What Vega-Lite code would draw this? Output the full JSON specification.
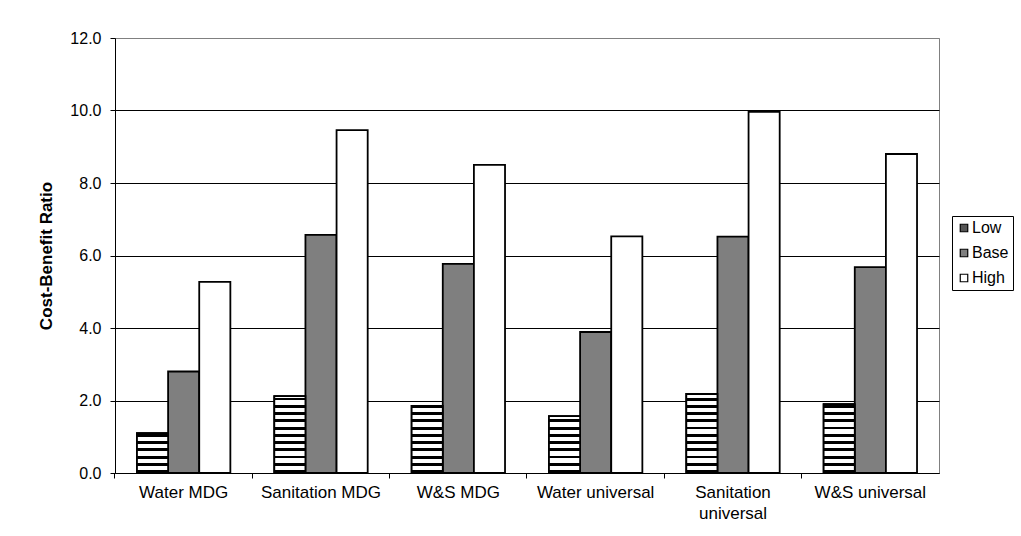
{
  "$schema": "https://vega.github.io/schema/vega-lite/v6.json",
  "width": 824,
  "height": 435,
  "autosize": {"type": "none"},
  "padding": {"left": 115, "top": 38, "right": 82, "bottom": 63},
  "background": "white",
  "config": {
    "font": "Liberation Sans",
    "view": {"stroke": "#808080", "strokeWidth": 1}
  },
  "data": {
    "values": [
      {"cat": "Water MDG", "series": "Low", "value": 1.1},
      {"cat": "Water MDG", "series": "Base", "value": 2.8},
      {"cat": "Water MDG", "series": "High", "value": 5.27},
      {"cat": "Sanitation MDG", "series": "Low", "value": 2.12},
      {"cat": "Sanitation MDG", "series": "Base", "value": 6.57},
      {"cat": "Sanitation MDG", "series": "High", "value": 9.46},
      {"cat": "W&S MDG", "series": "Low", "value": 1.85},
      {"cat": "W&S MDG", "series": "Base", "value": 5.77},
      {"cat": "W&S MDG", "series": "High", "value": 8.5},
      {"cat": "Water universal", "series": "Low", "value": 1.57},
      {"cat": "Water universal", "series": "Base", "value": 3.89},
      {"cat": "Water universal", "series": "High", "value": 6.53},
      {"cat": "Sanitation universal", "series": "Low", "value": 2.18},
      {"cat": "Sanitation universal", "series": "Base", "value": 6.52},
      {"cat": "Sanitation universal", "series": "High", "value": 9.96},
      {"cat": "W&S universal", "series": "Low", "value": 1.9},
      {"cat": "W&S universal", "series": "Base", "value": 5.68},
      {"cat": "W&S universal", "series": "High", "value": 8.8}
    ]
  },
  "encoding": {
    "x": {
      "field": "cat",
      "type": "nominal",
      "sort": ["Water MDG", "Sanitation MDG", "W&S MDG", "Water universal", "Sanitation universal", "W&S universal"],
      "scale": {"paddingInner": 0.32, "paddingOuter": 0.16},
      "axis": {
        "title": null,
        "labelAngle": 0,
        "labelFontSize": 17,
        "labelColor": "black",
        "labelPadding": 6,
        "labelLineHeight": 21,
        "labelOverlap": false,
        "labelExpr": "datum.label === 'Sanitation universal' ? ['Sanitation', 'universal'] : datum.label",
        "bandPosition": -0.2353,
        "tickSize": 5,
        "tickColor": "black",
        "domainColor": "black",
        "grid": false
      }
    },
    "xOffset": {
      "field": "series",
      "type": "nominal",
      "sort": ["Low", "Base", "High"],
      "scale": {"domain": ["Low", "Base", "High"], "paddingInner": 0, "paddingOuter": 0}
    },
    "y": {
      "field": "value",
      "type": "quantitative",
      "scale": {"domain": [0, 12], "nice": false},
      "axis": {
        "title": "Cost-Benefit Ratio",
        "titleFontSize": 17,
        "titleFontWeight": "bold",
        "titleColor": "black",
        "titlePadding": 14,
        "values": [0, 2, 4, 6, 8, 10, 12],
        "format": ".1f",
        "labelFontSize": 16,
        "labelColor": "black",
        "labelPadding": 9,
        "tickSize": 5,
        "tickColor": "black",
        "domainColor": "black",
        "grid": true,
        "gridColor": {"condition": {"test": "datum.value === 12", "value": "#808080"}, "value": "black"},
        "gridWidth": 1
      }
    },
    "y2": {"datum": 0}
  },
  "layer": [
    {
      "mark": {"type": "bar", "stroke": "black", "strokeWidth": 1.8},
      "encoding": {
        "fill": {
          "field": "series",
          "type": "nominal",
          "scale": {"domain": ["Low", "Base", "High"], "range": ["#555555", "#7f7f7f", "white"]},
          "legend": {
            "title": null,
            "orient": "none",
            "legendX": 837,
            "legendY": 178,
            "symbolType": "square",
            "symbolSize": 56,
            "symbolStrokeColor": "black",
            "symbolStrokeWidth": 1,
            "labelFontSize": 16,
            "labelColor": "black",
            "labelOffset": 0,
            "strokeColor": "black",
            "fillColor": "white",
            "padding": 4,
            "rowPadding": 9,
            "encode": {
              "symbols": {
                "update": {
                  "stroke": {"value": "black"},
                  "strokeWidth": {"value": 1.2},
                  "fill": {"signal": "datum.value === 'Low' ? {gradient: 'linear', x1: 0, y1: 0, x2: 0, y2: 1, stops: [{offset: 0, color: '#fff'}, {offset: 0.5, color: '#fff'}, {offset: 0.5, color: '#000'}, {offset: 1, color: '#000'}]} : datum.value === 'Base' ? '#7f7f7f' : '#fff'"}
                }
              }
            }
          }
        }
      }
    },
    {
      "transform": [{"filter": "datum.series === 'Low'"}],
      "mark": {"type": "bar", "stroke": "black", "strokeWidth": 1.8},
      "encoding": {
        "fill": {
          "condition": [
            {"test": "datum.cat === 'Water MDG'", "value": {"gradient": "linear", "x1": 0, "y1": 1, "x2": 0, "y2": 0, "stops": [
              {"offset": 0, "color": "#000"}, {"offset": 0.0727, "color": "#000"}, {"offset": 0.0727, "color": "#fff"}, {"offset": 0.1818, "color": "#fff"},
              {"offset": 0.1818, "color": "#000"}, {"offset": 0.2545, "color": "#000"}, {"offset": 0.2545, "color": "#fff"}, {"offset": 0.3636, "color": "#fff"},
              {"offset": 0.3636, "color": "#000"}, {"offset": 0.4364, "color": "#000"}, {"offset": 0.4364, "color": "#fff"}, {"offset": 0.5455, "color": "#fff"},
              {"offset": 0.5455, "color": "#000"}, {"offset": 0.6182, "color": "#000"}, {"offset": 0.6182, "color": "#fff"}, {"offset": 0.7273, "color": "#fff"},
              {"offset": 0.7273, "color": "#000"}, {"offset": 0.8, "color": "#000"}, {"offset": 0.8, "color": "#fff"}, {"offset": 0.9091, "color": "#fff"},
              {"offset": 0.9091, "color": "#000"}, {"offset": 0.9818, "color": "#000"}, {"offset": 0.9818, "color": "#fff"}, {"offset": 1, "color": "#fff"}
            ]}},
            {"test": "datum.cat === 'Sanitation MDG'", "value": {"gradient": "linear", "x1": 0, "y1": 1, "x2": 0, "y2": 0, "stops": [
              {"offset": 0, "color": "#000"}, {"offset": 0.0377, "color": "#000"}, {"offset": 0.0377, "color": "#fff"}, {"offset": 0.0943, "color": "#fff"},
              {"offset": 0.0943, "color": "#000"}, {"offset": 0.1321, "color": "#000"}, {"offset": 0.1321, "color": "#fff"}, {"offset": 0.1887, "color": "#fff"},
              {"offset": 0.1887, "color": "#000"}, {"offset": 0.2264, "color": "#000"}, {"offset": 0.2264, "color": "#fff"}, {"offset": 0.283, "color": "#fff"},
              {"offset": 0.283, "color": "#000"}, {"offset": 0.3208, "color": "#000"}, {"offset": 0.3208, "color": "#fff"}, {"offset": 0.3774, "color": "#fff"},
              {"offset": 0.3774, "color": "#000"}, {"offset": 0.4151, "color": "#000"}, {"offset": 0.4151, "color": "#fff"}, {"offset": 0.4717, "color": "#fff"},
              {"offset": 0.4717, "color": "#000"}, {"offset": 0.5094, "color": "#000"}, {"offset": 0.5094, "color": "#fff"}, {"offset": 0.566, "color": "#fff"},
              {"offset": 0.566, "color": "#000"}, {"offset": 0.6038, "color": "#000"}, {"offset": 0.6038, "color": "#fff"}, {"offset": 0.6604, "color": "#fff"},
              {"offset": 0.6604, "color": "#000"}, {"offset": 0.6981, "color": "#000"}, {"offset": 0.6981, "color": "#fff"}, {"offset": 0.7547, "color": "#fff"},
              {"offset": 0.7547, "color": "#000"}, {"offset": 0.7925, "color": "#000"}, {"offset": 0.7925, "color": "#fff"}, {"offset": 0.8491, "color": "#fff"},
              {"offset": 0.8491, "color": "#000"}, {"offset": 0.8868, "color": "#000"}, {"offset": 0.8868, "color": "#fff"}, {"offset": 0.9434, "color": "#fff"},
              {"offset": 0.9434, "color": "#000"}, {"offset": 0.9811, "color": "#000"}, {"offset": 0.9811, "color": "#fff"}, {"offset": 1, "color": "#fff"}
            ]}},
            {"test": "datum.cat === 'W&S MDG'", "value": {"gradient": "linear", "x1": 0, "y1": 1, "x2": 0, "y2": 0, "stops": [
              {"offset": 0, "color": "#000"}, {"offset": 0.0432, "color": "#000"}, {"offset": 0.0432, "color": "#fff"}, {"offset": 0.1081, "color": "#fff"},
              {"offset": 0.1081, "color": "#000"}, {"offset": 0.1514, "color": "#000"}, {"offset": 0.1514, "color": "#fff"}, {"offset": 0.2162, "color": "#fff"},
              {"offset": 0.2162, "color": "#000"}, {"offset": 0.2595, "color": "#000"}, {"offset": 0.2595, "color": "#fff"}, {"offset": 0.3243, "color": "#fff"},
              {"offset": 0.3243, "color": "#000"}, {"offset": 0.3676, "color": "#000"}, {"offset": 0.3676, "color": "#fff"}, {"offset": 0.4324, "color": "#fff"},
              {"offset": 0.4324, "color": "#000"}, {"offset": 0.4757, "color": "#000"}, {"offset": 0.4757, "color": "#fff"}, {"offset": 0.5405, "color": "#fff"},
              {"offset": 0.5405, "color": "#000"}, {"offset": 0.5838, "color": "#000"}, {"offset": 0.5838, "color": "#fff"}, {"offset": 0.6486, "color": "#fff"},
              {"offset": 0.6486, "color": "#000"}, {"offset": 0.6919, "color": "#000"}, {"offset": 0.6919, "color": "#fff"}, {"offset": 0.7568, "color": "#fff"},
              {"offset": 0.7568, "color": "#000"}, {"offset": 0.8, "color": "#000"}, {"offset": 0.8, "color": "#fff"}, {"offset": 0.8649, "color": "#fff"},
              {"offset": 0.8649, "color": "#000"}, {"offset": 0.9081, "color": "#000"}, {"offset": 0.9081, "color": "#fff"}, {"offset": 0.973, "color": "#fff"},
              {"offset": 0.973, "color": "#000"}, {"offset": 1, "color": "#000"}
            ]}},
            {"test": "datum.cat === 'Water universal'", "value": {"gradient": "linear", "x1": 0, "y1": 1, "x2": 0, "y2": 0, "stops": [
              {"offset": 0, "color": "#000"}, {"offset": 0.051, "color": "#000"}, {"offset": 0.051, "color": "#fff"}, {"offset": 0.1274, "color": "#fff"},
              {"offset": 0.1274, "color": "#000"}, {"offset": 0.1783, "color": "#000"}, {"offset": 0.1783, "color": "#fff"}, {"offset": 0.2548, "color": "#fff"},
              {"offset": 0.2548, "color": "#000"}, {"offset": 0.3057, "color": "#000"}, {"offset": 0.3057, "color": "#fff"}, {"offset": 0.3822, "color": "#fff"},
              {"offset": 0.3822, "color": "#000"}, {"offset": 0.4331, "color": "#000"}, {"offset": 0.4331, "color": "#fff"}, {"offset": 0.5096, "color": "#fff"},
              {"offset": 0.5096, "color": "#000"}, {"offset": 0.5605, "color": "#000"}, {"offset": 0.5605, "color": "#fff"}, {"offset": 0.6369, "color": "#fff"},
              {"offset": 0.6369, "color": "#000"}, {"offset": 0.6879, "color": "#000"}, {"offset": 0.6879, "color": "#fff"}, {"offset": 0.7643, "color": "#fff"},
              {"offset": 0.7643, "color": "#000"}, {"offset": 0.8153, "color": "#000"}, {"offset": 0.8153, "color": "#fff"}, {"offset": 0.8917, "color": "#fff"},
              {"offset": 0.8917, "color": "#000"}, {"offset": 0.9427, "color": "#000"}, {"offset": 0.9427, "color": "#fff"}, {"offset": 1, "color": "#fff"}
            ]}},
            {"test": "datum.cat === 'Sanitation universal'", "value": {"gradient": "linear", "x1": 0, "y1": 1, "x2": 0, "y2": 0, "stops": [
              {"offset": 0, "color": "#000"}, {"offset": 0.0367, "color": "#000"}, {"offset": 0.0367, "color": "#fff"}, {"offset": 0.0917, "color": "#fff"},
              {"offset": 0.0917, "color": "#000"}, {"offset": 0.1284, "color": "#000"}, {"offset": 0.1284, "color": "#fff"}, {"offset": 0.1835, "color": "#fff"},
              {"offset": 0.1835, "color": "#000"}, {"offset": 0.2202, "color": "#000"}, {"offset": 0.2202, "color": "#fff"}, {"offset": 0.2752, "color": "#fff"},
              {"offset": 0.2752, "color": "#000"}, {"offset": 0.3119, "color": "#000"}, {"offset": 0.3119, "color": "#fff"}, {"offset": 0.367, "color": "#fff"},
              {"offset": 0.367, "color": "#000"}, {"offset": 0.4037, "color": "#000"}, {"offset": 0.4037, "color": "#fff"}, {"offset": 0.4587, "color": "#fff"},
              {"offset": 0.4587, "color": "#000"}, {"offset": 0.4954, "color": "#000"}, {"offset": 0.4954, "color": "#fff"}, {"offset": 0.5505, "color": "#fff"},
              {"offset": 0.5505, "color": "#000"}, {"offset": 0.5872, "color": "#000"}, {"offset": 0.5872, "color": "#fff"}, {"offset": 0.6422, "color": "#fff"},
              {"offset": 0.6422, "color": "#000"}, {"offset": 0.6789, "color": "#000"}, {"offset": 0.6789, "color": "#fff"}, {"offset": 0.7339, "color": "#fff"},
              {"offset": 0.7339, "color": "#000"}, {"offset": 0.7706, "color": "#000"}, {"offset": 0.7706, "color": "#fff"}, {"offset": 0.8257, "color": "#fff"},
              {"offset": 0.8257, "color": "#000"}, {"offset": 0.8624, "color": "#000"}, {"offset": 0.8624, "color": "#fff"}, {"offset": 0.9174, "color": "#fff"},
              {"offset": 0.9174, "color": "#000"}, {"offset": 0.9541, "color": "#000"}, {"offset": 0.9541, "color": "#fff"}, {"offset": 1, "color": "#fff"}
            ]}},
            {"test": "datum.cat === 'W&S universal'", "value": {"gradient": "linear", "x1": 0, "y1": 1, "x2": 0, "y2": 0, "stops": [
              {"offset": 0, "color": "#000"}, {"offset": 0.0421, "color": "#000"}, {"offset": 0.0421, "color": "#fff"}, {"offset": 0.1053, "color": "#fff"},
              {"offset": 0.1053, "color": "#000"}, {"offset": 0.1474, "color": "#000"}, {"offset": 0.1474, "color": "#fff"}, {"offset": 0.2105, "color": "#fff"},
              {"offset": 0.2105, "color": "#000"}, {"offset": 0.2526, "color": "#000"}, {"offset": 0.2526, "color": "#fff"}, {"offset": 0.3158, "color": "#fff"},
              {"offset": 0.3158, "color": "#000"}, {"offset": 0.3579, "color": "#000"}, {"offset": 0.3579, "color": "#fff"}, {"offset": 0.4211, "color": "#fff"},
              {"offset": 0.4211, "color": "#000"}, {"offset": 0.4632, "color": "#000"}, {"offset": 0.4632, "color": "#fff"}, {"offset": 0.5263, "color": "#fff"},
              {"offset": 0.5263, "color": "#000"}, {"offset": 0.5684, "color": "#000"}, {"offset": 0.5684, "color": "#fff"}, {"offset": 0.6316, "color": "#fff"},
              {"offset": 0.6316, "color": "#000"}, {"offset": 0.6737, "color": "#000"}, {"offset": 0.6737, "color": "#fff"}, {"offset": 0.7368, "color": "#fff"},
              {"offset": 0.7368, "color": "#000"}, {"offset": 0.7789, "color": "#000"}, {"offset": 0.7789, "color": "#fff"}, {"offset": 0.8421, "color": "#fff"},
              {"offset": 0.8421, "color": "#000"}, {"offset": 0.8842, "color": "#000"}, {"offset": 0.8842, "color": "#fff"}, {"offset": 0.9474, "color": "#fff"},
              {"offset": 0.9474, "color": "#000"}, {"offset": 0.9895, "color": "#000"}, {"offset": 0.9895, "color": "#fff"}, {"offset": 1, "color": "#fff"}
            ]}}
          ],
          "value": "white"
        }
      }
    }
  ]
}
